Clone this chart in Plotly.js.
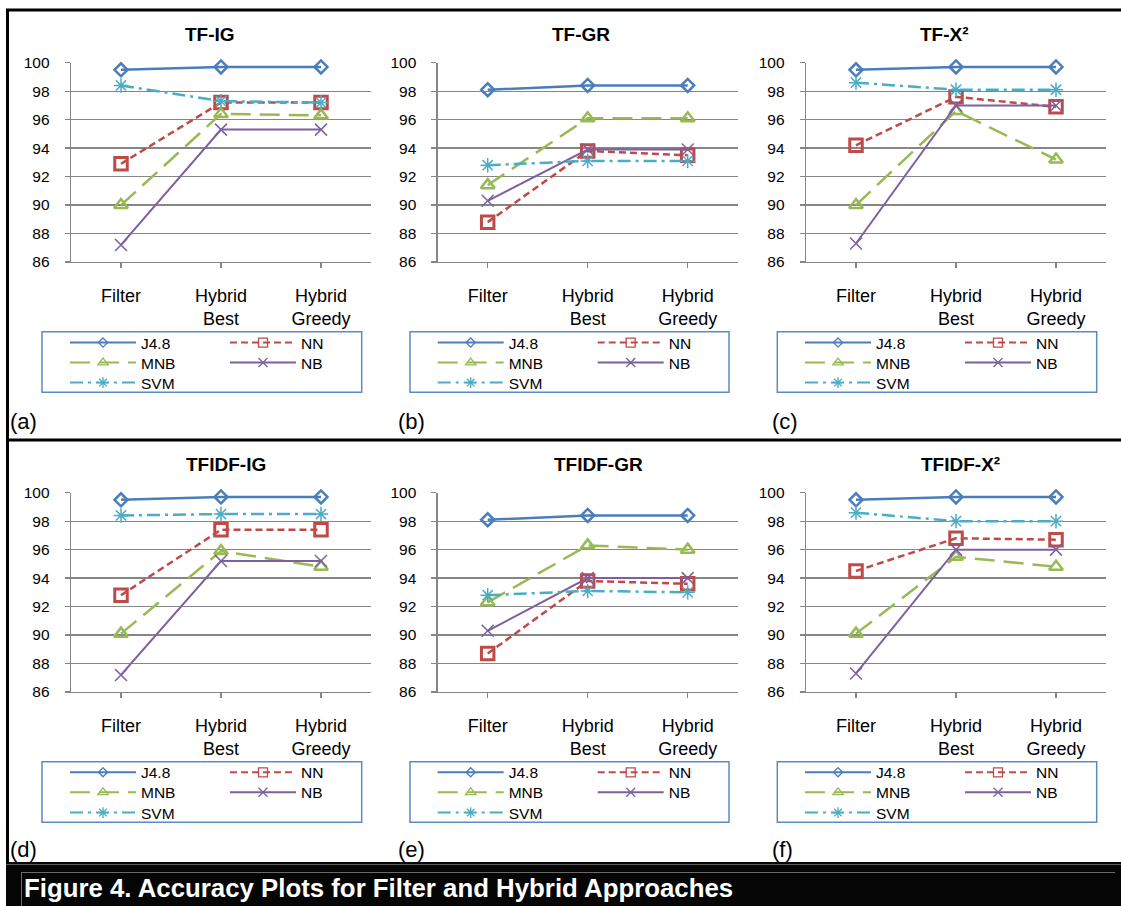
<!DOCTYPE html>
<html><head><meta charset="utf-8">
<script src="https://cdn.plot.ly/plotly-3.0.1.min.js"></script>
<style>html,body{margin:0;padding:0;background:#fff;} #chart{width:1121px;height:906px;}</style>
</head><body><div id="chart"></div>
<script>
// ---- data ----
const categories = ['Filter', 'Hybrid<br>Best', 'Hybrid<br>Greedy'];
const yTicks = [86, 88, 90, 92, 94, 96, 98, 100];
const panelTitles = ['TF-IG', 'TF-GR', 'TF-X²', 'TFIDF-IG', 'TFIDF-GR', 'TFIDF-X²'];
const panelLetters = ['(a)', '(b)', '(c)', '(d)', '(e)', '(f)'];
const seriesNames = ['J4.8', 'NN', 'MNB', 'NB', 'SVM'];
const captionText = 'Figure 4. Accuracy Plots for Filter and Hybrid Approaches';

// values per panel (a..f), each [Filter, Hybrid Best, Hybrid Greedy]
const J48 = [[99.5, 99.7, 99.7], [98.1, 98.4, 98.4], [99.5, 99.7, 99.7], [99.5, 99.7, 99.7], [98.1, 98.4, 98.4], [99.5, 99.7, 99.7]];
const NN  = [[92.9, 97.2, 97.2], [88.8, 93.8, 93.5], [94.2, 97.6, 96.9], [92.8, 97.4, 97.4], [88.7, 93.8, 93.6], [94.5, 96.8, 96.7]];
const MNB = [[90.0, 96.4, 96.3], [91.4, 96.1, 96.1], [90.0, 96.6, 93.2], [90.1, 95.9, 94.8], [92.3, 96.3, 96.0], [90.1, 95.5, 94.8]];
const NB  = [[87.2, 95.3, 95.3], [90.3, 93.9, 93.9], [87.3, 97.0, 97.0], [87.2, 95.2, 95.2], [90.3, 94.0, 94.0], [87.3, 96.0, 96.0]];
const SVM = [[98.4, 97.3, 97.2], [92.8, 93.1, 93.1], [98.6, 98.1, 98.1], [98.4, 98.5, 98.5], [92.8, 93.1, 93.0], [98.6, 98.0, 98.0]];
const seriesValues = [J48, NN, MNB, NB, SVM];

// ---- styles / geometry ----
const W = 1121, H = 906;
const px = v => v / W;
const py = v => 1 - v / H;
const FONT = 'Liberation Sans, Arial, sans-serif';
const styles = [
  {color: '#4a7ebb', dash: 'solid', width: 2.5, symbol: 'diamond-open', size: 10, mlw: 2.5},
  {color: '#be4b48', dash: '7px,4px', width: 2.5, symbol: 'square-open', size: 12.5, mlw: 3},
  {color: '#98b954', dash: '20px,9px', width: 2.5, symbol: 'triangle-up-open', size: 12, mlw: 2.5},
  {color: '#7d60a0', dash: 'solid', width: 2, symbol: 'x-thin-open', size: 12, mlw: 1.5},
  {color: '#4bacc6', dash: '13px,5px,3px,5px', width: 2.5, symbol: 'asterisk-open', size: 12, mlw: 1.5}
];
const legendRow = [0, 0, 1, 1, 2];
const plotLeft = [71, 437.7, 806];
const plotTop = [62.7, 492.7];
const plotW = 300, plotH = 199.3;
const titlePos = [[209.7, 35], [581, 35], [944, 35], [225.5, 465], [598.8, 465], [960.5, 465]];
const legBoxX = [[42, 361.7], [410, 729], [777.3, 1096.7]];
const legBoxY = [[331.7, 392.3], [761.7, 822.3]];
const legLineX = [70, 437.7, 805];
const legRowY = [[343, 363, 383], [772.7, 792.7, 813]];
const letterX = [8, 396, 770];
const letterY = [422, 849];

const traces = [];
const layout = {
  width: W, height: H,
  margin: {l: 0, r: 0, t: 0, b: 0},
  paper_bgcolor: '#ffffff', plot_bgcolor: 'rgba(0,0,0,0)',
  font: {family: FONT, color: '#000'},
  showlegend: true,
  annotations: [], shapes: []
};

let legCount = 0;
for (let p = 0; p < 6; p++) {
  const col = p % 3, row = Math.floor(p / 3);
  const ax = p === 0 ? '' : String(p + 1);
  const legIds = [];
  for (let r = 0; r < 3; r++) {
    legCount++;
    const id = legCount === 1 ? 'legend' : 'legend' + legCount;
    legIds.push(id);
    layout[id] = {
      orientation: 'h', x: px(legLineX[col] - 5), xanchor: 'left',
      y: py(legRowY[row][r]), yanchor: 'middle',
      bgcolor: 'rgba(0,0,0,0)', borderwidth: 0,
      font: {family: FONT, size: 15.5, color: '#000'},
      itemwidth: 66, entrywidth: 79, entrywidthmode: 'pixels',
      traceorder: 'normal', itemclick: false, itemdoubleclick: false
    };
  }
  // data traces
  for (let s = 0; s < 5; s++) {
    const st = styles[s];
    traces.push({
      type: 'scatter', mode: 'lines+markers',
      x: categories, y: seriesValues[s][p], name: seriesNames[s],
      xaxis: 'x' + ax, yaxis: 'y' + ax, showlegend: false,
      line: {color: st.color, width: st.width, dash: st.dash},
      marker: {symbol: st.symbol, size: st.size, color: st.color, line: {color: st.color, width: st.mlw}},
      cliponaxis: false, hoverinfo: 'skip'
    });
  }
  // legend entries (smaller key symbols, as in the original legend)
  for (let s = 0; s < 5; s++) {
    const st = styles[s];
    traces.push({
      type: 'scatter', mode: 'lines+markers',
      x: [null], y: [null], name: seriesNames[s],
      xaxis: 'x' + ax, yaxis: 'y' + ax, showlegend: true,
      legend: legIds[legendRow[s]],
      line: {color: st.color, width: 2, dash: st.dash},
      marker: {symbol: st.symbol, size: s === 0 ? 7 : 9, color: st.color, line: {color: st.color, width: 1.3}},
      hoverinfo: 'skip'
    });
  }
  const x0 = plotLeft[col], y0 = plotTop[row];
  layout['xaxis' + ax] = {
    domain: [px(x0), px(x0 + plotW)], anchor: 'y' + ax,
    type: 'category', categoryorder: 'array', categoryarray: categories,
    range: [-0.5, 2.5], showgrid: false, zeroline: false,
    showline: true, linecolor: '#868686', linewidth: 1.3,
    ticks: 'outside', ticklen: 5, tickcolor: '#868686', tickwidth: 1.3,
    tickfont: {family: FONT, size: 18, color: '#000'}, ticklabelstandoff: 12,
    fixedrange: true
  };
  layout['yaxis' + ax] = {
    domain: [py(y0 + plotH), py(y0)], anchor: 'x' + ax,
    range: [86, 100], tickmode: 'array', tickvals: yTicks, ticktext: yTicks.map(String),
    showgrid: true, gridcolor: '#868686', gridwidth: 1.3, zeroline: false,
    showline: true, linecolor: '#868686', linewidth: 1.3,
    ticks: 'outside', ticklen: 5, tickcolor: '#868686', tickwidth: 1.3,
    tickfont: {family: FONT, size: 15.5, color: '#000'}, ticklabelstandoff: 12,
    fixedrange: true
  };
  layout.annotations.push({
    xref: 'paper', yref: 'paper', x: px(titlePos[p][0]), y: py(titlePos[p][1]),
    xanchor: 'center', yanchor: 'middle', showarrow: false,
    text: '<b>' + panelTitles[p] + '</b>', font: {family: FONT, size: 19, color: '#000'}
  });
  layout.annotations.push({
    xref: 'paper', yref: 'paper', x: px(letterX[col]), y: py(letterY[row]),
    xanchor: 'left', yanchor: 'middle', showarrow: false,
    text: panelLetters[p], font: {family: FONT, size: 22, color: '#000'}
  });
  layout.shapes.push({
    type: 'rect', xref: 'paper', yref: 'paper',
    x0: px(legBoxX[col][0]), x1: px(legBoxX[col][1]),
    y0: py(legBoxY[row][1]), y1: py(legBoxY[row][0]),
    line: {color: '#5b8ac6', width: 1.5}, fillcolor: 'rgba(0,0,0,0)'
  });
}

const lineShape = (x0, y0, x1, y1, color, w) => ({
  type: 'line', xref: 'paper', yref: 'paper',
  x0: px(x0), y0: py(y0), x1: px(x1), y1: py(y1), line: {color: color, width: w}
});
layout.shapes.push({type: 'rect', xref: 'paper', yref: 'paper', x0: px(6), x1: px(1121), y0: py(906), y1: py(862),
  fillcolor: '#050505', line: {width: 0}});
layout.shapes.push(lineShape(6, 10, 1121, 10, '#000', 3));
layout.shapes.push(lineShape(7.5, 10, 7.5, 862, '#000', 3));
layout.shapes.push(lineShape(6, 440, 1121, 440, '#000', 3));
layout.shapes.push(lineShape(6, 864.5, 1121, 864.5, '#5a5a5a', 1));
layout.shapes.push(lineShape(21, 872.5, 1115, 872.5, '#6a6a6a', 1));
layout.shapes.push(lineShape(21.5, 872.5, 21.5, 906, '#6a6a6a', 1));
layout.annotations.push({
  xref: 'paper', yref: 'paper', x: px(22), y: py(888),
  xanchor: 'left', yanchor: 'middle', showarrow: false,
  text: '<b>' + captionText + '</b>', font: {family: FONT, size: 25.8, color: '#ffffff'}
});

Plotly.newPlot('chart', traces, layout, {staticPlot: true, displayModeBar: false});
</script>
</body></html>
